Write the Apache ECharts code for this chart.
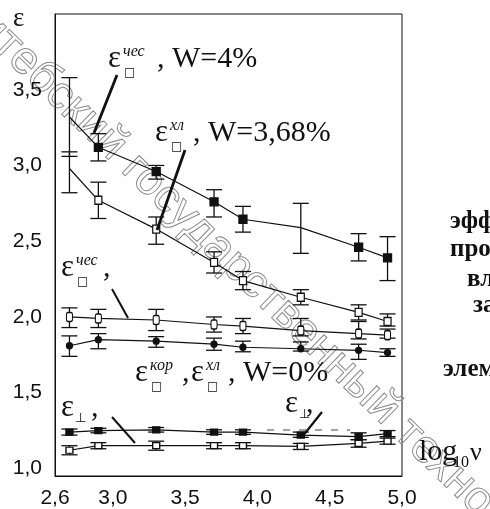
<!DOCTYPE html>
<html>
<head>
<meta charset="utf-8">
<title>ECharts</title>
<style>
html,body{margin:0;padding:0;width:100%;height:100%;overflow:hidden;background:#fff}
#main{width:490px;height:509px}
</style>
<script src="https://cdn.jsdelivr.net/npm/echarts@6/dist/echarts.min.js"></script>
</head>
<body>
<div id="main"></div>
<script>
// log10 of frequency
var logNu = [2.7, 2.9, 3.3, 3.7, 3.9, 4.3, 4.7, 4.9];
var xTicks = [2.6, 3.0, 3.5, 4.0, 4.5, 5.0];
var yTicks = [1.0, 1.5, 2.0, 2.5, 3.0, 3.5];

// eps_par (чес), W=4%
var epsChes4 = [3.32, 3.12, 2.96, 2.76, 2.645, 2.59, 2.46, 2.39];
var epsChes4Hi = [3.58, 3.21, 3.00, 2.84, 2.73, 2.75, 2.55, 2.53];
var epsChes4Lo = [3.06, 3.03, 2.91, 2.66, 2.56, 2.42, 2.37, 2.24];
// eps_par (хл), W=3,68%
var epsHl368 = [2.98, 2.77, 2.58, 2.36, 2.24, 2.13, 2.03, 1.97];
var epsHl368Hi = [3.09, 2.89, 2.66, 2.43, 2.30, 2.18, 2.08, 2.02];
var epsHl368Lo = [2.82, 2.65, 2.48, 2.29, 2.18, 2.08, 1.98, 1.94];
// eps_par (чес), W=0%
var epsChes0 = [2.00, 1.99, 1.98, 1.95, 1.94, 1.91, 1.89, 1.88];
var epsChes0Hi = [2.06, 2.05, 2.05, 2.00, 1.99, 1.99, 1.97, 1.92];
var epsChes0Lo = [1.93, 1.93, 1.91, 1.90, 1.89, 1.875, 1.855, 1.86];
// eps_par (кор, хл), W=0%
var epsKor0 = [1.81, 1.85, 1.84, 1.82, 1.80, 1.79, 1.78, 1.765];
var epsKor0Hi = [1.875, 1.89, 1.87, 1.86, 1.84, 1.835, 1.82, 1.79];
var epsKor0Lo = [1.74, 1.79, 1.80, 1.78, 1.77, 1.775, 1.72, 1.74];
// eps_perp
var epsPerpA = [1.24, 1.25, 1.255, 1.24, 1.24, 1.22, 1.21, 1.23];
var epsPerpAHi = [1.26, 1.265, 1.27, 1.255, 1.255, 1.24, 1.235, 1.25];
var epsPerpALo = [1.22, 1.235, 1.24, 1.225, 1.225, 1.205, 1.19, 1.21];
var epsPerpB = [1.12, 1.15, 1.15, 1.15, 1.15, 1.145, 1.165, 1.18];
var epsPerpBHi = [1.15, 1.17, 1.18, 1.17, 1.17, 1.165, 1.19, 1.20];
var epsPerpBLo = [1.09, 1.13, 1.12, 1.13, 1.13, 1.125, 1.14, 1.16];

var chart = echarts.init(document.getElementById('main'));

function comma(v) { return v.toFixed(1).replace('.', ','); }

function lineSeries(vals, symbol, size, filled, noMark) {
    return {
        type: 'line',
        z: 3,
        symbol: symbol,
        showAllSymbol: true,
        lineStyle: {color: '#111', width: 1.2},
        itemStyle: {color: filled ? '#111' : '#fff', borderColor: '#111', borderWidth: 1.3},
        data: logNu.map(function (x, i) {
            return {value: [x, vals[i]], symbolSize: (noMark || []).indexOf(i) >= 0 ? 0 : size};
        })
    };
}

function renderErr(params, api) {
    var x = api.value(0);
    var lo = api.coord([x, api.value(1)]);
    var hi = api.coord([x, api.value(2)]);
    var w = 8;
    var st = {stroke: '#111', lineWidth: 1.3};
    return {type: 'group', children: [
        {type: 'line', shape: {x1: lo[0], y1: lo[1], x2: hi[0], y2: hi[1]}, style: st},
        {type: 'line', shape: {x1: lo[0] - w, y1: lo[1], x2: lo[0] + w, y2: lo[1]}, style: st},
        {type: 'line', shape: {x1: hi[0] - w, y1: hi[1], x2: hi[0] + w, y2: hi[1]}, style: st}
    ]};
}

function errSeries(lo, hi) {
    return {
        type: 'custom',
        z: 2,
        renderItem: renderErr,
        encode: {x: 0, y: [1, 2]},
        data: logNu.map(function (x, i) { return [x, lo[i], hi[i]]; })
    };
}

// text helpers (baseline given, middle computed)
var SERIF = '"Liberation Serif", serif';
function t(x, base, s, size, extra) {
    var st = {
        text: s, x: 0, y: 0,
        font: (extra && extra.fontStyle ? extra.fontStyle + ' ' : '') + size + 'px ' + ((extra && extra.family) || SERIF),
        fill: '#111', align: 'left', verticalAlign: 'middle'
    };
    return {type: 'text', x: x, y: base - 0.3 * size, z: 100, style: st};
}
function epsPar(x, base, sup) {
    return [
        t(x, base, 'ε', 31),
        t(x + 15, base - 11, sup, 16, {fontStyle: 'italic'}),
        t(x + 16, base + 8, '□', 12, {family: '"DejaVu Sans", sans-serif'})
    ];
}
function epsPerp(x, base) {
    return [
        t(x, base, 'ε', 31),
        t(x + 14, base + 6, '⊥', 13, {family: '"DejaVu Sans", sans-serif'})
    ];
}
function stroke(x1, y1, x2, y2, w) {
    return {type: 'line', z: 100, shape: {x1: x1, y1: y1, x2: x2, y2: y2}, style: {stroke: '#111', lineWidth: w}};
}

var graphics = [];
// watermark
graphics.push({
    type: 'text', x: -40, y: -2, rotation: -0.77, z: 0,
    style: {
        text: 'Витебский государственный технологический университет',
        font: '46px "Liberation Sans", sans-serif',
        fill: 'rgba(255,255,255,0)', stroke: '#8c8c8c', lineWidth: 1,
        align: 'left', verticalAlign: 'middle'
    }
});
// y axis name
graphics.push(t(13, 27, 'ε', 27));
// annotations
graphics = graphics.concat(epsPar(108, 68, 'чес'));
graphics.push(t(157, 68, ', W=4%', 30));
graphics = graphics.concat(epsPar(155, 142, 'хл'));
graphics.push(t(193, 142, ', W=3,68%', 30));
graphics = graphics.concat(epsPar(61, 277, 'чес'));
graphics.push(t(103, 277, ',', 30));
graphics = graphics.concat(epsPar(135, 382, 'кор'));
graphics.push(t(182, 382, ',', 30));
graphics = graphics.concat(epsPar(191, 382, 'хл'));
graphics.push(t(228, 382, ', W=0%', 30));
graphics = graphics.concat(epsPerp(61, 417));
graphics.push(t(91, 417, ',', 30));
graphics = graphics.concat(epsPerp(285, 413));
graphics.push(t(306, 413, ',', 30));
graphics.push(stroke(117, 75, 94, 133, 2.8));
graphics.push(stroke(185, 150, 157, 230, 2.8));
graphics.push(stroke(112, 289, 128, 318, 2));
graphics.push(stroke(112, 417, 135, 443, 2));
graphics.push(stroke(322, 412, 302, 437, 2.2));
graphics.push({type: 'line', z: 100, shape: {x1: 267, y1: 430, x2: 350, y2: 430},
    style: {stroke: '#444', lineWidth: 1, lineDash: [7, 9]}});
// x axis name
graphics.push(t(419, 461, 'log', 30));
graphics.push(t(453, 468, '10', 16));
graphics.push(t(470, 461, 'ν', 26));
// cut-off side text
var sideBold = function (x, base, s) {
    var g = t(x, base, s, 25);
    g.style.font = 'bold 25px ' + SERIF;
    return g;
};
graphics.push(sideBold(450, 229, 'эффективной'));
graphics.push(sideBold(450, 257, 'проницаемости'));
graphics.push(sideBold(467, 287, 'влажности'));
graphics.push(sideBold(473, 313, 'зависимости'));
graphics.push(sideBold(443, 377, 'элементов'));

var option = {
    animation: false,
    backgroundColor: '#fff',
    grid: {left: 55, right: 88, top: 14, bottom: 31, show: true, borderColor: '#111', borderWidth: 1},
    xAxis: {
        type: 'value', min: 2.6, max: 5.0,
        axisLine: {show: true, lineStyle: {color: '#111'}},
        axisTick: {show: false},
        splitLine: {show: false},
        axisLabel: {
            customValues: xTicks, formatter: comma, margin: 12,
            color: '#111', fontSize: 21, fontFamily: '"Liberation Sans", sans-serif'
        }
    },
    yAxis: {
        type: 'value', min: 0.95, max: 4.0,
        axisLine: {show: true, lineStyle: {color: '#111'}},
        axisTick: {show: false},
        splitLine: {show: false},
        axisLabel: {
            customValues: yTicks, formatter: comma, margin: 13,
            color: '#111', fontSize: 21, fontFamily: '"Liberation Sans", sans-serif'
        }
    },
    series: [
        errSeries(epsChes4Lo, epsChes4Hi),
        errSeries(epsHl368Lo, epsHl368Hi),
        errSeries(epsChes0Lo, epsChes0Hi),
        errSeries(epsKor0Lo, epsKor0Hi),
        errSeries(epsPerpALo, epsPerpAHi),
        errSeries(epsPerpBLo, epsPerpBHi),
        lineSeries(epsChes4, 'rect', 8, true, [0, 5]),
        lineSeries(epsHl368, 'rect', [7, 8], false, [0]),
        lineSeries(epsChes0, 'roundRect', [6, 9], false),
        lineSeries(epsKor0, 'circle', 6, true),
        lineSeries(epsPerpA, 'rect', [7, 6], true),
        lineSeries(epsPerpB, 'rect', [7, 6], false)
    ],
    graphic: graphics
};

chart.setOption(option);
</script>
</body>
</html>
